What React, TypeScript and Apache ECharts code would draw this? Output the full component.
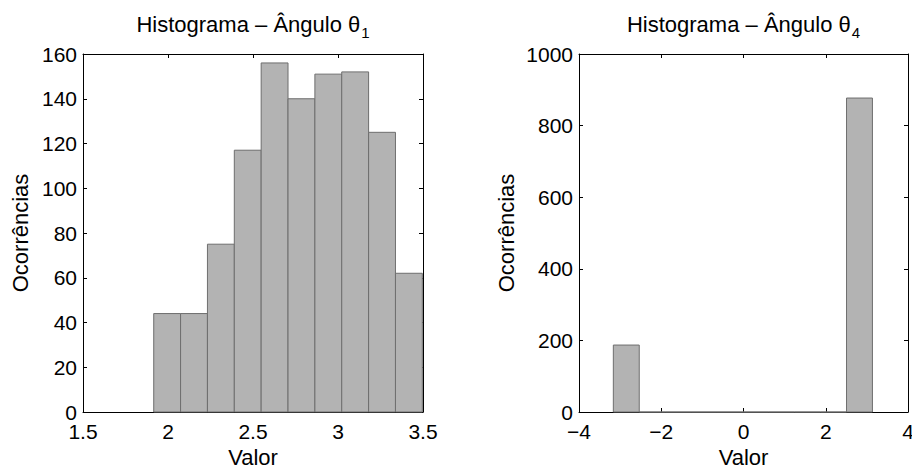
import React, { useEffect, useRef } from "react";
import * as echarts from "echarts";

// Histogram of theta1: bin edges and counts
const theta1Edges = [1.916, 2.074, 2.232, 2.39, 2.548, 2.706, 2.864, 3.022, 3.18, 3.338, 3.496];
const theta1Counts = [44, 44, 75, 117, 156, 140, 151, 152, 125, 62];
// Histogram of theta4: bin edges and counts
const theta4Edges = [-3.165, -2.535, -1.905, -1.275, -0.645, -0.015, 0.615, 1.245, 1.875, 2.505, 3.135];
const theta4Counts = [187, 0, 0, 0, 0, 0, 0, 0, 0, 877];

// Axis ranges / tick steps
const theta1XRange = [1.5, 3.5, 0.5];
const theta1YRange = [0, 160, 20];
const theta4XRange = [-4, 4, 2];
const theta4YRange = [0, 1000, 200];

const titles = ["Histograma – Ângulo θ", "Histograma – Ângulo θ"];
const subscripts = ["1", "4"];
const xName = "Valor";
const yName = "Ocorrências";

const FONT = "Liberation Sans, Arial, Helvetica, sans-serif";

function toBins(edges: number[], counts: number[]) {
  return counts.map((c, i) => [edges[i], edges[i + 1], c]);
}

const fmtNum = (v: number) => (v < 0 ? "\u2212" + String(Math.abs(v)) : String(v));

export default function App() {
  const ref = useRef<HTMLDivElement>(null);
  useEffect(() => {
    if (!ref.current) return;
    const chart = echarts.init(ref.current, null, { renderer: "svg" });

    const grids = [
      { left: 83, top: 54, width: 340, height: 358, containLabel: false, outerBoundsMode: "none" },
      { left: 579, top: 54, width: 329, height: 358, containLabel: false, outerBoundsMode: "none" },
    ];

    const axisLine = { show: true, onZero: false, lineStyle: { color: "#000", width: 1 } };
    const axisTick = { show: true, inside: true, length: 4, lineStyle: { color: "#000", width: 1 } };
    const label = { color: "#000", fontSize: 21, fontFamily: FONT };

    const xr = [theta1XRange, theta4XRange];
    const yr = [theta1YRange, theta4YRange];

    const xAxis: any[] = [];
    const yAxis: any[] = [];
    [0, 1].forEach((g) => {
      xAxis.push({
        type: "value",
        gridIndex: g,
        position: "bottom",
        min: xr[g][0],
        max: xr[g][1],
        interval: xr[g][2],
        axisLine,
        axisTick,
        splitLine: { show: false },
        axisLabel: { ...label, margin: 9, formatter: fmtNum, showMinLabel: true, showMaxLabel: true },
        name: xName,
        nameLocation: "middle",
        nameGap: 34,
        nameMoveOverlap: false,
        nameTextStyle: { color: "#000", fontSize: 22, lineHeight: 22, fontFamily: FONT },
      });
      xAxis.push({
        type: "value",
        gridIndex: g,
        position: "top",
        min: xr[g][0],
        max: xr[g][1],
        interval: xr[g][2],
        axisLine,
        axisTick,
        splitLine: { show: false },
        axisLabel: { show: false },
      });
      yAxis.push({
        type: "value",
        gridIndex: g,
        position: "left",
        min: yr[g][0],
        max: yr[g][1],
        interval: yr[g][2],
        axisLine,
        axisTick,
        splitLine: { show: false },
        axisLabel: { ...label, margin: 6, formatter: fmtNum },
        name: yName,
        nameLocation: "middle",
        nameGap: g === 0 ? 52 : 62,
        nameMoveOverlap: false,
        nameTextStyle: { color: "#000", fontSize: 22, fontFamily: FONT },
      });
      yAxis.push({
        type: "value",
        gridIndex: g,
        position: "right",
        min: yr[g][0],
        max: yr[g][1],
        interval: yr[g][2],
        axisLine,
        axisTick,
        splitLine: { show: false },
        axisLabel: { show: false },
      });
    });

    const renderBar = (params: any, api: any) => {
      const x0 = api.value(0);
      const x1 = api.value(1);
      const y = api.value(2);
      const p0 = api.coord([x0, y]);
      const p1 = api.coord([x1, 0]);
      return {
        type: "rect",
        shape: { x: p0[0], y: p0[1], width: p1[0] - p0[0], height: p1[1] - p0[1] },
        style: { fill: "#b3b3b3", stroke: "#6e6e6e", lineWidth: 1 },
      };
    };

    const titleCfg = (i: number) => ({
      text: `{m|${titles[i]}}{s|${subscripts[i]}}`,
      left: grids[i].left + grids[i].width / 2,
      textAlign: "center",
      top: 13,
      padding: 0,
      textStyle: {
        fontWeight: "normal",
        rich: {
          m: { fontSize: 22, fontWeight: "normal", fontFamily: FONT, color: "#000", lineHeight: 26, verticalAlign: "top" },
          s: { fontSize: 15, fontWeight: "normal", fontFamily: FONT, color: "#000", lineHeight: 16, padding: [12, 0, 0, 1], verticalAlign: "top" },
        },
      },
    });

    chart.setOption({
      animation: false,
      backgroundColor: "#fff",
      title: [titleCfg(0), titleCfg(1)],
      grid: grids,
      xAxis,
      yAxis,
      series: [
        {
          type: "custom",
          xAxisIndex: 0,
          yAxisIndex: 0,
          renderItem: renderBar,
          data: toBins(theta1Edges, theta1Counts),
          encode: { x: [0, 1], y: 2 },
        },
        {
          type: "custom",
          xAxisIndex: 2,
          yAxisIndex: 2,
          renderItem: renderBar,
          data: toBins(theta4Edges, theta4Counts),
          encode: { x: [0, 1], y: 2 },
        },
      ],
    });
    return () => chart.dispose();
  }, []);

  return (
    <div
      ref={ref}
      style={{ position: "absolute", left: 0, top: 0, width: 912, height: 468, background: "#fff" }}
    />
  );
}
